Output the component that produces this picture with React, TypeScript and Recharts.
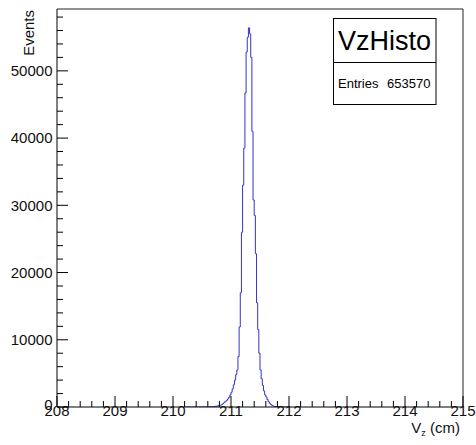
import React from 'react';
import { LineChart, Line, XAxis, YAxis, ReferenceLine } from 'recharts';

// ---- data ----
const histName = 'VzHisto';
const entries = 653570;
const binStart = 210.2;
const binWidth = 0.02;
const counts = [
  0, 0, 0, 0, 0, 0, 0, 0, 0, 0,
  2, 3, 3, 5, 6, 8, 10, 12, 15, 20,
  25, 30, 40, 50, 60, 80, 100, 120, 150, 200,
  250, 300, 400, 550, 700, 850, 1000, 1200, 1450, 1800,
  2200, 2700, 3300, 4000, 4800, 5500, 7500, 11900, 17000, 26000,
  33000, 38500, 46700, 52800, 55000, 56400, 55500, 52000, 41000, 30800,
  28500, 22800, 15500, 11500, 8000, 5500, 4200, 3200, 2400, 1800,
  1500, 1100, 800, 550, 380, 250, 150, 100, 60, 40,
  30, 20, 15, 10, 8, 5, 3, 2, 1, 0,
];
const xMajorTicks = [208, 209, 210, 211, 212, 213, 214, 215];
const yMajorTicks = [0, 10000, 20000, 30000, 40000, 50000];
const xDomain = [208, 215];
const yDomain = [0, 59200];
const xTitle = 'V';
const xTitleSub = 'z';
const xTitleUnit = ' (cm)';
const yTitle = 'Events';

const data = counts.map((c, i) => ({ x: +(binStart + i * binWidth).toFixed(4), y: c }));
data.push({ x: +(binStart + counts.length * binWidth).toFixed(4), y: counts[counts.length - 1] });

const xTicks: number[] = [];
for (let k = 0; k <= (xDomain[1] - xDomain[0]) * 5; k++) xTicks.push(+(xDomain[0] + k * 0.2).toFixed(1));
const yTicks: number[] = [];
for (let v = 0; v <= 58000; v += 2000) yTicks.push(v);

const FONT = '"Liberation Sans", Arial, Helvetica, sans-serif';
const LINE_COLOR = '#3434c8';

const XTick = (props: any) => {
  const { x, y, payload } = props;
  const v = payload.value;
  const major = xMajorTicks.some((m) => Math.abs(m - v) < 1e-6);
  return (
    <g>
      <line x1={x} x2={x} y1={y} y2={y - (major ? 11 : 6)} stroke="#000" strokeWidth={1} />
      {major && (
        <text x={x} y={y + 9} textAnchor="middle" fontSize={15} fill="#111" fontFamily={FONT}>
          {Math.round(v)}
        </text>
      )}
    </g>
  );
};

const YTick = (props: any) => {
  const { x, y, payload } = props;
  const v = payload.value;
  const major = yMajorTicks.includes(v);
  return (
    <g>
      <line x1={x} x2={x + (major ? 11 : 6)} y1={y} y2={y} stroke="#000" strokeWidth={1} />
      {major && (
        <text x={x - 4.5} y={y + (v === 0 ? 2.5 : 5.3)} textAnchor="end" fontSize={15} fill="#111" fontFamily={FONT}>
          {v}
        </text>
      )}
    </g>
  );
};

export default function App() {
  return (
    <div
      style={{
        position: 'absolute',
        left: 0,
        top: 0,
        width: 476,
        height: 445,
        background: '#fff',
        fontFamily: FONT,
      }}
    >
      <LineChart
        width={476}
        height={445}
        data={data}
        margin={{ top: 9, right: 13, bottom: 8, left: 7 }}
      >
        <XAxis
          dataKey="x"
          type="number"
          domain={xDomain}
          allowDataOverflow
          ticks={xTicks}
          interval={0}
          tickSize={0}
          tickMargin={0}
          tickLine={false}
          tick={<XTick />}
          axisLine={{ stroke: '#000', strokeWidth: 1 }}
          height={30}
        />
        <YAxis
          type="number"
          domain={yDomain}
          allowDataOverflow
          ticks={yTicks}
          interval={0}
          tickSize={0}
          tickMargin={0}
          tickLine={false}
          tick={<YTick />}
          axisLine={{ stroke: '#000', strokeWidth: 1 }}
          width={50}
        />
        <ReferenceLine y={yDomain[1]} stroke="#222" strokeWidth={1} />
        <ReferenceLine x={xDomain[1]} stroke="#222" strokeWidth={1} />
        <Line
          dataKey="y"
          type="stepAfter"
          stroke={LINE_COLOR}
          strokeWidth={1}
          dot={false}
          activeDot={false}
          isAnimationActive={false}
        />
      </LineChart>
      <svg
        width={476}
        height={445}
        style={{ position: 'absolute', left: 0, top: 0, pointerEvents: 'none' }}
      >
        {/* axis titles */}
        <text x={460} y={433} textAnchor="end" fontSize={15} fill="#111" fontFamily={FONT}>
          <tspan>{xTitle}</tspan>
          <tspan dy={2.5} fontSize={9}>{xTitleSub}</tspan>
          <tspan dy={-2.5}>{xTitleUnit}</tspan>
        </text>
        <text
          transform="rotate(-90)"
          x={-10}
          y={33.5}
          textAnchor="end"
          fontSize={15}
          fill="#111"
          fontFamily={FONT}
        >
          {yTitle}
        </text>
        {/* stats box */}
        <rect x={333.5} y={18.5} width={102.5} height={86} fill="#fff" stroke="#000" strokeWidth={1} />
        <line x1={333.5} x2={436} y1={62.5} y2={62.5} stroke="#000" strokeWidth={1} />
        <text x={384.5} y={49.5} textAnchor="middle" fontSize={27} fill="#000" fontFamily={FONT}>
          {histName}
        </text>
        <text x={338} y={87.5} textAnchor="start" fontSize={13} fill="#000" fontFamily={FONT}>
          Entries
        </text>
        <text x={430.5} y={87.5} textAnchor="end" fontSize={13} fill="#000" fontFamily={FONT}>
          {entries}
        </text>
      </svg>
    </div>
  );
}
